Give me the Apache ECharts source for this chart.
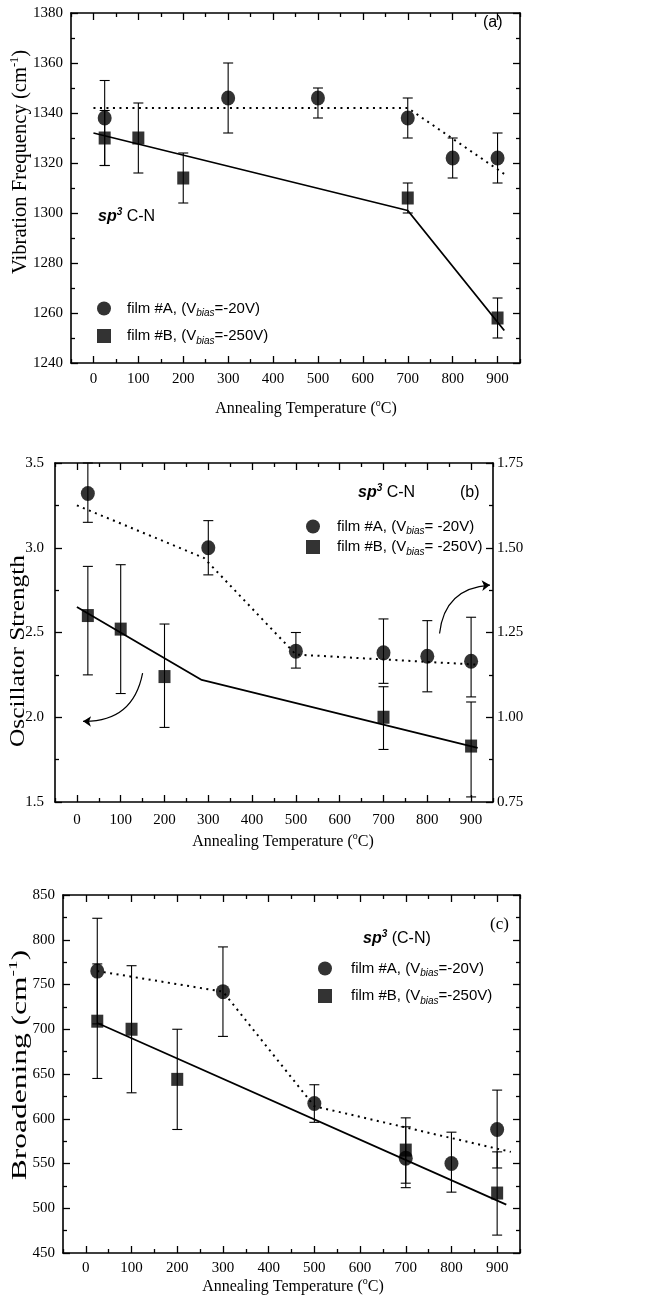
<!DOCTYPE html>
<html>
<head>
<meta charset="utf-8">
<script src="https://cdn.jsdelivr.net/npm/echarts@6/dist/echarts.min.js"></script>
<style>
  html, body { margin: 0; padding: 0; background: #fff; }
  #chart { width: 649px; height: 1304px; }
</style>
</head>
<body>
<div id="chart"></div>
<script>
// ---- Data: annealing temperature (°C) vs. sp3 C-N band parameters ----
// Temperature ticks
const MAJOR_T = [0, 100, 200, 300, 400, 500, 600, 700, 800, 900];
const MINOR_T = [-50, 50, 150, 250, 350, 450, 550, 650, 750, 850, 950];

// (a) vibration frequency, cm^-1
const freqA_T = [25, 300, 500, 700, 800, 900];
const freqA = [1338, 1346, 1346, 1338, 1322, 1322];
const freqA_lo = [1319, 1332, 1338, 1330, 1314, 1312];
const freqA_hi = [1353, 1360, 1350, 1346, 1330, 1332];
const freqB_T = [25, 100, 200, 700, 900];
const freqB = [1330, 1330, 1314, 1306, 1258];
const freqB_lo = [1319, 1316, 1304, 1300, 1250];
const freqB_hi = [1341, 1344, 1324, 1312, 1266];
const freqFitA_T = [0, 700, 920];
const freqFitA = [1342, 1342, 1315];
const freqFitB_T = [0, 700, 915];
const freqFitB = [1332, 1301, 1253];

// (b) oscillator strength
const oscA_T = [25, 300, 500, 700, 800, 900];
const oscA = [3.32, 3.00, 2.39, 2.38, 2.36, 2.33];
const oscA_lo = [3.15, 2.84, 2.29, 2.20, 2.15, 2.12];
const oscA_hi = [3.50, 3.16, 2.50, 2.58, 2.57, 2.59];
const oscB_T = [25, 100, 200, 700, 900];
const oscB = [2.60, 2.52, 2.24, 2.00, 1.83];
const oscB_lo = [2.25, 2.14, 1.94, 1.81, 1.53];
const oscB_hi = [2.89, 2.90, 2.55, 2.18, 2.09];
const oscFitA_T = [0, 290, 500, 915];
const oscFitA = [3.25, 2.94, 2.37, 2.31];
const oscFitB_T = [0, 285, 915];
const oscFitB = [2.65, 2.22, 1.82];
// curved pointer arrows: [[T0, v0], [T1, v1]]
const oscArrowLeft = [[150, 2.26], [14, 1.976]];
const oscArrowRight = [[828, 2.494], [943, 2.78]];

// (c) broadening, cm^-1
const brA_T = [25, 300, 500, 700, 800, 900];
const brA = [765, 742, 617, 556, 550, 588];
const brA_lo = [706, 692, 596, 523, 518, 545];
const brA_hi = [824, 792, 638, 591, 585, 632];
const brB_T = [25, 100, 200, 700, 900];
const brB = [709, 700, 644, 565, 517];
const brB_lo = [645, 629, 588, 528, 470];
const brB_hi = [773, 771, 700, 601, 563];
const brFitA_T = [25, 300, 500, 930];
const brFitA = [765, 742, 614, 563];
const brFitB_T = [25, 920];
const brFitB = [707, 504];

// ---- Styling helpers ----
const SERIF = 'Liberation Serif';
const SANS = 'Liberation Sans';
const INK = '#000';
const AXIS_W = 1.6;

const pairs = (xs, ys) => xs.map((x, i) => [x, ys[i]]);
const triples = (xs, lo, hi) => xs.map((x, i) => [x, lo[i], hi[i]]);

function xAxesFor(g, margin) {
  const base = {
    gridIndex: g, type: 'value', min: -50, max: 950,
    splitLine: { show: false },
    axisLine: { onZero: false, lineStyle: { color: INK, width: AXIS_W } }
  };
  const tickStyle = { color: INK, width: 1.3 };
  const major = { show: true, inside: true, length: 7, customValues: MAJOR_T, lineStyle: tickStyle };
  const minor = { show: true, inside: true, length: 4, customValues: MINOR_T, lineStyle: tickStyle };
  return [
    Object.assign({}, base, {
      position: 'bottom', axisTick: major,
      axisLabel: { customValues: MAJOR_T, margin: margin, color: INK, fontFamily: SERIF, fontSize: 15, formatter: v => String(v) }
    }),
    Object.assign({}, base, { position: 'bottom', axisLine: { show: false, onZero: false }, axisTick: minor, axisLabel: { show: false } }),
    Object.assign({}, base, { position: 'top', axisTick: major, axisLabel: { show: false } }),
    Object.assign({}, base, { position: 'top', axisLine: { show: false, onZero: false }, axisTick: minor, axisLabel: { show: false } })
  ];
}

function yAxisFor(g, pos, min, max, interval, label) {
  return {
    gridIndex: g, type: 'value', position: pos, min: min, max: max, interval: interval,
    splitLine: { show: false },
    axisLine: { onZero: false, lineStyle: { color: INK, width: AXIS_W } },
    axisTick: { show: true, inside: true, length: 7, lineStyle: { color: INK, width: 1.3 } },
    minorTick: { show: true, splitNumber: 2, length: 4, lineStyle: { color: INK, width: 1.3 } },
    axisLabel: label ? Object.assign({ color: INK, fontFamily: SERIF, fontSize: 15, formatter: v => String(v) }, label) : { show: false }
  };
}

function errorBars(g, name, rows) {
  return {
    type: 'custom', name: name, xAxisIndex: g * 4, yAxisIndex: g * 2,
    data: rows, encode: { x: 0, y: [1, 2] }, silent: true, z: 2,
    renderItem: function (params, api) {
      const t = api.value(0);
      const p1 = api.coord([t, api.value(1)]);
      const p2 = api.coord([t, api.value(2)]);
      const w = 5;
      const st = { stroke: INK, lineWidth: 1.1 };
      return {
        type: 'group', children: [
          { type: 'line', shape: { x1: p1[0], y1: p1[1], x2: p2[0], y2: p2[1] }, style: st },
          { type: 'line', shape: { x1: p1[0] - w, y1: p1[1], x2: p1[0] + w, y2: p1[1] }, style: st },
          { type: 'line', shape: { x1: p2[0] - w, y1: p2[1], x2: p2[0] + w, y2: p2[1] }, style: st }
        ]
      };
    }
  };
}

function fitLine(g, data, dotted) {
  return {
    type: 'line', xAxisIndex: g * 4, yAxisIndex: g * 2, data: data,
    showSymbol: false, symbol: 'none', silent: true, z: 3,
    lineStyle: dotted ? { color: INK, width: 2, type: [2, 4.5] } : { color: INK, width: 1.8 }
  };
}

function points(g, name, data, circle) {
  return {
    type: 'scatter', name: name, xAxisIndex: g * 4, yAxisIndex: g * 2, data: data,
    symbol: circle ? 'circle' : 'rect', symbolSize: circle ? [14, 15] : [12, 13],
    itemStyle: { color: INK }, z: 4, silent: true
  };
}

function arrow(g, coords) {
  return {
    type: 'lines', coordinateSystem: 'cartesian2d', xAxisIndex: g * 4, yAxisIndex: g * 2,
    symbol: ['none', 'arrow'], symbolSize: 8, silent: true, z: 3,
    lineStyle: { color: INK, width: 1.2, curveness: 0.42, opacity: 1 },
    data: [{ coords: coords }]
  };
}

const LEG = {
  a: ['film #A, (Vbias=-20V) ', 'film #B, (Vbias=-250V) '],
  b: ['film #A, (Vbias= -20V)', 'film #B, (Vbias= -250V)'],
  c: ['film #A, (Vbias=-20V)', 'film #B, (Vbias=-250V)']
};
const LEG_RICH = {
  'film #A, (Vbias=-20V) ': '{g|}{n|film #A, (V}{s|bias}{n|=-20V)}',
  'film #B, (Vbias=-250V) ': '{g|}{n|film #B, (V}{s|bias}{n|=-250V)}',
  'film #A, (Vbias= -20V)': '{g|}{n|film #A, (V}{s|bias}{n|= -20V)}',
  'film #B, (Vbias= -250V)': '{g|}{n|film #B, (V}{s|bias}{n|= -250V)}',
  'film #A, (Vbias=-20V)': '{g|}{n|film #A, (V}{s|bias}{n|=-20V)}',
  'film #B, (Vbias=-250V)': '{g|}{n|film #B, (V}{s|bias}{n|=-250V)}'
};

function legendFor(names, left, top, gap, itemGap) {
  return {
    show: true, orient: 'vertical', left: left, top: top, itemGap: itemGap,
    itemWidth: 14, itemHeight: 14, selectedMode: false, padding: 0,
    data: [{ name: names[0], icon: 'circle' }, { name: names[1], icon: 'rect' }],
    formatter: function (n) { return LEG_RICH[n]; },
    textStyle: {
      color: INK,
      rich: {
        g: { width: gap },
        n: { fontFamily: SANS, fontSize: 15, lineHeight: 20, color: INK },
        s: { fontFamily: SANS, fontSize: 10, fontStyle: 'italic', lineHeight: 10, verticalAlign: 'bottom', color: INK }
      }
    }
  };
}

function serifRich(size) {
  return {
    n: { fontFamily: SERIF, fontSize: size, lineHeight: size + 5, color: INK },
    u: { fontFamily: SERIF, fontSize: Math.round(size * 0.6), lineHeight: Math.round(size * 0.6), verticalAlign: 'top', color: INK }
  };
}
const spRich = {
  b: { fontFamily: SANS, fontSize: 16, fontWeight: 'bold', fontStyle: 'italic', lineHeight: 20, color: INK },
  u: { fontFamily: SANS, fontSize: 10, fontWeight: 'bold', fontStyle: 'italic', lineHeight: 10, verticalAlign: 'top', color: INK },
  n: { fontFamily: SANS, fontSize: 16, lineHeight: 20, color: INK }
};
const xName = '{n|Annealing Temperature (}{u|o}{n|C)}';

function text(x, y, str, rich) {
  return {
    type: 'text', x: x, y: y, silent: true,
    style: { text: str, rich: rich, align: 'left', verticalAlign: 'middle' }
  };
}
// centred label; rotated labels may be stretched along their length
function centered(x, y, str, rich, rot, stretch) {
  return {
    type: 'text', x: x, y: y, rotation: rot || 0, scaleX: stretch || 1, silent: true,
    style: { text: str, rich: rich, align: 'center', verticalAlign: 'middle' }
  };
}

const option = {
  animation: false,
  backgroundColor: '#fff',
  textStyle: { fontFamily: SERIF, color: INK },
  grid: [
    { left: 71, top: 13, width: 449, height: 350, containLabel: false, outerBoundsMode: 'none' },
    { left: 55, top: 463, width: 438, height: 339, containLabel: false, outerBoundsMode: 'none' },
    { left: 63, top: 895, width: 457, height: 358, containLabel: false, outerBoundsMode: 'none' }
  ],
  xAxis: [].concat(xAxesFor(0, 9), xAxesFor(1, 11), xAxesFor(2, 8)),
  yAxis: [
    yAxisFor(0, 'left', 1240, 1380, 20, { margin: 8 }),
    yAxisFor(0, 'right', 1240, 1380, 20, null),
    yAxisFor(1, 'left', 1.5, 3.5, 0.5, { margin: 11, formatter: v => v.toFixed(1) }),
    yAxisFor(1, 'right', 0.75, 1.75, 0.25, { margin: 4, formatter: v => v.toFixed(2) }),
    yAxisFor(2, 'left', 450, 850, 50, { margin: 8 }),
    yAxisFor(2, 'right', 450, 850, 50, null)
  ],
  legend: [
    legendFor(LEG.a, 97, 301, 11, 10),
    legendFor(LEG.b, 306, 519, 12, 3),
    legendFor(LEG.c, 318, 961, 14, 10)
  ],
  graphic: [
    // panel (a)
    centered(21, 162, '{n|Vibration Frequency (cm}{u|-1}{n|)}', serifRich(20), Math.PI / 2, 1.03),
    centered(306, 409, xName, serifRich(16)),
    text(98, 217, '{b|sp}{u|3}{n| C-N}', spRich),
    text(483, 23, '{n|(a)}', spRich),
    // panel (b)
    centered(18, 651, '{n|Oscillator Strength}', serifRich(22), Math.PI / 2, 1.15),
    centered(283, 842, xName, serifRich(16)),
    text(358, 493, '{b|sp}{u|3}{n| C-N}', spRich),
    text(460, 493, '{n|(b)}', spRich),
    // panel (c)
    centered(20, 1065, '{n|Broadening (cm}{u|-1}{n|)}', serifRich(21), Math.PI / 2, 1.5),
    centered(293, 1287, xName, serifRich(16)),
    text(363, 939, '{b|sp}{u|3}{n| (C-N)}', spRich),
    text(490, 925, '{n|(c)}', serifRich(17))
  ],
  series: [
    // (a)
    errorBars(0, 'errA', triples(freqA_T, freqA_lo, freqA_hi)),
    errorBars(0, 'errB', triples(freqB_T, freqB_lo, freqB_hi)),
    fitLine(0, pairs(freqFitA_T, freqFitA), true),
    fitLine(0, pairs(freqFitB_T, freqFitB), false),
    points(0, LEG.a[0], pairs(freqA_T, freqA), true),
    points(0, LEG.a[1], pairs(freqB_T, freqB), false),
    // (b)
    errorBars(1, 'errA', triples(oscA_T, oscA_lo, oscA_hi)),
    errorBars(1, 'errB', triples(oscB_T, oscB_lo, oscB_hi)),
    fitLine(1, pairs(oscFitA_T, oscFitA), true),
    fitLine(1, pairs(oscFitB_T, oscFitB), false),
    arrow(1, oscArrowLeft),
    arrow(1, oscArrowRight),
    points(1, LEG.b[0], pairs(oscA_T, oscA), true),
    points(1, LEG.b[1], pairs(oscB_T, oscB), false),
    // (c)
    errorBars(2, 'errA', triples(brA_T, brA_lo, brA_hi)),
    errorBars(2, 'errB', triples(brB_T, brB_lo, brB_hi)),
    fitLine(2, pairs(brFitA_T, brFitA), true),
    fitLine(2, pairs(brFitB_T, brFitB), false),
    points(2, LEG.c[0], pairs(brA_T, brA), true),
    points(2, LEG.c[1], pairs(brB_T, brB), false)
  ]
};

const chart = echarts.init(document.getElementById('chart'), null, { renderer: 'canvas' });
chart.setOption(option);
</script>
</body>
</html>
